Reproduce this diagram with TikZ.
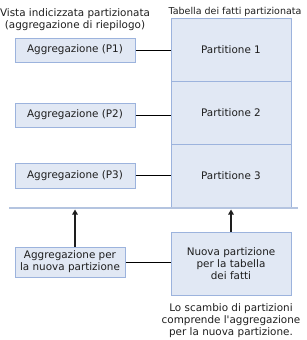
\documentclass[tikz,border=0pt]{standalone}
\usepackage{fontspec}
\setmainfont{DejaVu Sans}
\usetikzlibrary{arrows.meta,positioning,calc}

\definecolor{boxfill}{HTML}{E1E8F4}
\definecolor{boxline}{HTML}{9CB3DD}
\definecolor{sepline}{HTML}{B4C4E0}
\definecolor{txt}{HTML}{1E1E1E}

\tikzset{
  aggbox/.style={draw=boxline, fill=boxfill, line width=1pt, minimum width=120pt,
    minimum height=24pt, inner sep=0pt, align=center, text=txt},
  partbox/.style={aggbox, minimum height=63pt},
  link/.style={draw=black, line width=0.8pt},
  push/.style={draw=txt, line width=1.6pt, -{Triangle[width=5.5pt,length=5pt]}}
}

\begin{document}
\begin{tikzpicture}[x=1pt, y=-1pt, font=\fontsize{10.4}{11.9}\selectfont, text=txt]
  \useasboundingbox (0,0) rectangle (306,340);
  % intestazioni
  \node[align=center] (vista) at (75,19.5) {Vista indicizzata partizionata\\(aggregazione di riepilogo)};
  \node[font=\fontsize{9.5}{11}\selectfont] (tabella) at (235,12) {Tabella dei fatti partizionata};
  % aggregazioni
  \node[aggbox] (agg1) at (75,50) {Aggregazione (P1)};
  \node[aggbox] (agg2) at (75,115) {Aggregazione (P2)};
  \node[aggbox, minimum height=25pt] (agg3) at (75,175.5) {Aggregazione (P3)};
  % partizioni
  \node[partbox] (part1) at (231,49.5) {Partitione 1};
  \node[partbox] (part2) at (231,112.5) {Partitione 2};
  \node[partbox] (part3) at (231,175.5) {Partitione 3};
  \draw[link] (agg1.east) -- (agg1.east -| part1.west);
  \draw[link] (agg2.east) -- (agg2.east -| part2.west);
  \draw[link] (agg3.east) -- (agg3.east -| part3.west);
  % separatore
  \coordinate (sepL) at (9,208);
  \coordinate (sepR) at (298,208);
  \draw[sepline, line width=1.6pt] (sepL) -- (sepR);
  % nuova partizione
  \node[aggbox, minimum width=110pt, minimum height=30pt] (newagg) at (70,262)
    {Aggregazione per\\la nuova partizione};
  \node[partbox] (newpart) at (231,263.5) {Nuova partizione\\per la tabella\\dei fatti};
  \draw[link] (newagg.east) -- (newagg.east -| newpart.west);
  \draw[push] (agg3 |- newagg.north) -- ($(agg3 |- sepL)+(0,1.5)$);
  \draw[push] (newpart.north) -- ($(newpart |- sepL)+(0,1.5)$);
  % nota
  \node[align=center] (nota) at (231,321)
    {Lo scambio di partizioni\\comprende l\textquotesingle aggregazione\\per la nuova partizione.};
\end{tikzpicture}
\end{document}
